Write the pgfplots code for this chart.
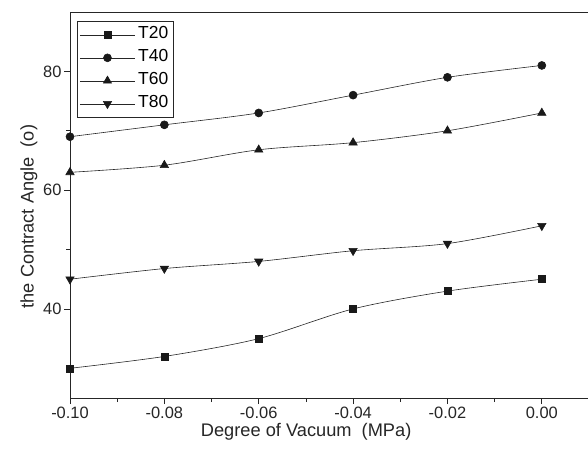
\documentclass[border=0pt]{standalone}
\usepackage{pgfplots}
\pgfplotsset{compat=1.18}
\usepackage{fontspec}
\setmainfont{Liberation Sans}
\begin{document}
\begin{tikzpicture}
\path[use as bounding box] (0,0) rectangle (588bp,450bp);
\begin{axis}[
  at={(70bp,52bp)}, anchor=south west,
  scale only axis, width=519bp, height=386bp,
  xmin=-0.10, xmax=0.01, ymin=25, ymax=90,
  xtick={-0.10,-0.08,-0.06,-0.04,-0.02,0.00},
  minor xtick={-0.09,-0.07,-0.05,-0.03,-0.01},
  ytick={40,60,80}, minor ytick={30,50,70},
  xtick pos=left, ytick pos=left,
  tick align=outside,
  major tick length=6bp, minor tick length=4bp,
  every tick/.style={black!85, line width=0.8bp},
  axis line style={black!85, line width=0.9bp},
  /pgf/number format/assume math mode=true,
  xticklabel style={/pgf/number format/.cd, fixed, fixed zerofill, precision=2},
  scaled x ticks=false,
  ticklabel style={font=\fontsize{16.5}{19}\selectfont, text=black!85},
  yticklabel style={xshift=1bp},
  xlabel={Degree of Vacuum\ \ (MPa)},
  ylabel={the Contract Angle\ \ (o)},
  label style={font=\fontsize{18.3}{21}\selectfont, text=black!85},
  xlabel style={at={(ticklabel cs:0.455)}, anchor=north, yshift=3bp},
  ylabel style={at={(ticklabel cs:0.47)}, anchor=south, yshift=-1bp},
  legend style={at={(0.014,0.977)}, anchor=north west, draw=black!85, line width=0.9bp,
    inner xsep=2bp, inner ysep=2bp, font=\fontsize{17.5}{21}\selectfont,
    nodes={inner xsep=3bp, inner ysep=1.5bp, text height=13.5bp, text depth=6.5bp}},
  legend cell align=left,
  legend image code/.code={
    \draw[mark repeat=2, mark phase=2, line width=0.5bp] plot coordinates {(0bp,0bp) (27.5bp,0bp) (55bp,0bp)};
  },
]
\addplot[black!85, line width=0.6bp, smooth, mark=square*, mark size=3.5bp, mark options={fill=black!90, draw=black!90}] coordinates {(-0.10,30) (-0.08,32) (-0.06,35) (-0.04,40) (-0.02,43) (0.00,45)};
\addlegendentry{T20}
\addplot[black!85, line width=0.6bp, smooth, mark=*, mark size=4bp, mark options={fill=black!90, draw=black!90}] coordinates {(-0.10,69) (-0.08,71) (-0.06,73) (-0.04,76) (-0.02,79) (0.00,81)};
\addlegendentry{T40}
\addplot[black!85, line width=0.6bp, smooth, mark=triangle*, mark size=4.8bp, mark options={fill=black!90, draw=black!90}] coordinates {(-0.10,63) (-0.08,64.2) (-0.06,66.8) (-0.04,68) (-0.02,70) (0.00,73)};
\addlegendentry{T60}
\addplot[black!85, line width=0.6bp, smooth, mark=triangle*, mark size=4.8bp, mark options={fill=black!90, draw=black!90, rotate=180}] coordinates {(-0.10,45) (-0.08,46.8) (-0.06,48) (-0.04,49.8) (-0.02,51) (0.00,54)};
\addlegendentry{T80}
\end{axis}
\end{tikzpicture}
\end{document}
